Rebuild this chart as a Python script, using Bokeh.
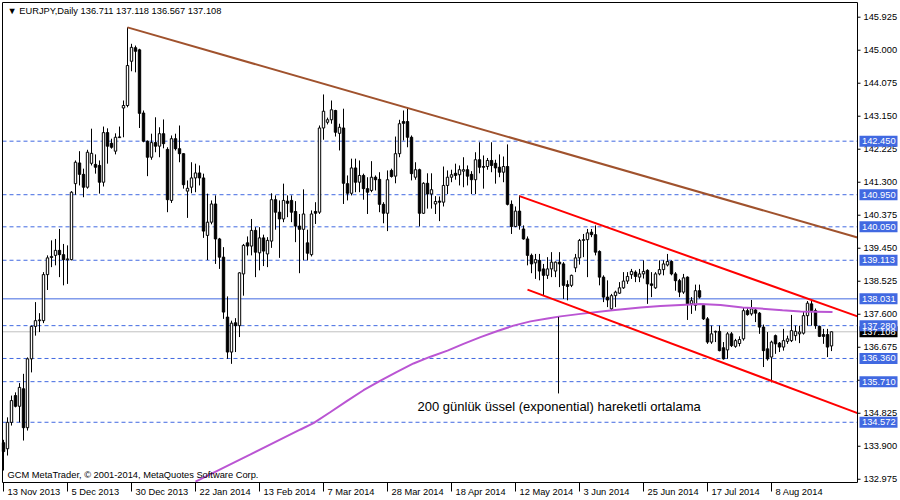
from bokeh.plotting import figure
from bokeh.models import Range1d
from bokeh.embed import file_html
from bokeh.resources import INLINE
from bokeh.core.properties import value

# ---------------- data (EURJPY daily, bar index 0 = 13 Nov 2013) ----------------
OPEN = [134.00, 133.83, 134.57, 135.32, 135.02, 135.51, 134.42, 136.35, 137.26, 137.42,
        137.42, 138.71, 139.19, 139.25, 139.39, 139.27, 139.13, 139.13, 141.26, 141.84,
        141.52, 141.16, 141.83, 141.80, 141.77, 141.30, 142.69, 142.39, 142.17, 142.55,
        143.38, 143.45, 144.69, 145.07, 145.01, 143.24, 142.45, 142.00, 142.41, 142.31,
        142.66, 142.22, 140.79, 142.52, 142.24, 142.10, 141.05, 141.16, 141.42, 141.56,
        141.42, 139.81, 140.18, 140.69, 139.71, 139.20, 137.52, 136.54, 137.36, 137.28,
        138.73, 139.60, 139.51, 139.95, 139.32, 139.74, 139.29, 139.65, 140.81, 140.46,
        140.27, 140.77, 140.79, 140.48, 140.07, 139.98, 139.60, 139.27, 140.48, 140.46,
        142.82, 142.98, 143.05, 143.31, 142.67, 142.82, 141.26, 140.99, 141.70, 141.30,
        141.49, 141.12, 141.07, 141.44, 141.38, 140.68, 140.43, 141.63, 141.47, 142.10,
        143.00, 143.00, 142.56, 141.44, 141.65, 140.43, 141.27, 140.97, 140.69, 140.77,
        140.74, 141.21, 141.44, 141.55, 141.51, 141.61, 141.65, 141.52, 141.37, 141.93,
        141.74, 141.74, 141.91, 141.83, 141.72, 141.58, 141.74, 140.68, 140.06, 140.49,
        139.99, 139.71, 139.25, 139.04, 139.11, 138.87, 138.69, 138.87, 138.81, 139.06,
        139.01, 138.43, 138.41, 138.90, 139.18, 139.67, 139.69, 139.90, 139.83, 139.36,
        138.64, 138.08, 137.75, 138.12, 138.19, 138.34, 138.53, 138.71, 138.78, 138.64,
        138.73, 138.83, 138.45, 138.34, 138.73, 138.85, 138.98, 139.08, 138.73, 138.54,
        138.22, 138.64, 137.89, 137.85, 138.26, 137.85, 137.47, 136.82, 137.10, 137.12,
        136.66, 136.60, 137.05, 136.70, 136.78, 136.91, 137.70, 137.61, 137.72, 137.63,
        137.24, 136.63, 136.40, 137.00, 136.79, 136.68, 136.84, 136.86, 137.00, 137.05,
        137.07, 137.56, 137.89, 137.70, 137.26, 137.03, 137.03, 136.711]
HIGH = [134.08, 134.71, 135.32, 135.41, 135.67, 135.93, 136.39, 137.28, 137.94, 137.63,
        138.78, 139.25, 139.67, 139.71, 139.99, 139.57, 139.53, 141.05, 141.91, 142.17,
        141.68, 142.21, 142.80, 142.08, 141.91, 142.86, 142.81, 142.52, 142.67, 142.86,
        143.59, 145.64, 145.18, 145.13, 145.04, 143.31, 142.47, 142.66, 143.12, 142.84,
        143.06, 142.28, 142.61, 142.66, 142.89, 142.11, 141.35, 141.86, 141.82, 141.77,
        141.54, 140.98, 140.79, 140.93, 139.74, 139.48, 138.10, 137.42, 137.49, 138.78,
        139.57, 139.78, 140.27, 140.04, 140.04, 139.83, 139.76, 140.99, 140.93, 140.79,
        141.26, 140.93, 140.93, 140.77, 140.41, 141.10, 139.97, 140.51, 140.74, 142.89,
        143.76, 143.11, 143.59, 143.33, 142.94, 143.36, 141.49, 141.96, 141.96, 141.91,
        141.54, 141.44, 141.89, 141.49, 141.58, 140.74, 141.63, 141.68, 142.58, 143.05,
        143.31, 143.40, 142.61, 141.86, 141.68, 141.30, 141.55, 141.55, 140.91, 140.90,
        141.74, 141.63, 141.65, 141.82, 141.77, 142.00, 141.77, 141.61, 142.14, 142.42,
        142.05, 141.98, 142.42, 141.93, 142.08, 142.02, 142.36, 140.79, 140.62, 140.93,
        140.09, 139.78, 139.30, 139.29, 139.29, 139.01, 139.20, 139.34, 139.08, 139.34,
        139.06, 138.55, 138.71, 139.29, 139.71, 139.85, 139.99, 139.99, 140.09, 139.39,
        138.69, 138.55, 138.17, 138.26, 138.50, 138.78, 138.78, 138.87, 138.83, 138.87,
        139.11, 138.86, 138.78, 138.78, 139.11, 139.11, 139.29, 139.11, 138.78, 138.59,
        138.73, 138.66, 138.08, 138.43, 138.43, 137.89, 137.52, 137.28, 137.14, 137.28,
        136.82, 137.10, 137.10, 136.91, 136.98, 137.80, 137.80, 138.00, 137.75, 137.66,
        137.31, 137.10, 136.86, 137.03, 136.82, 137.19, 137.00, 137.58, 137.28, 137.28,
        137.68, 137.97, 137.97, 137.76, 137.28, 137.19, 137.19, 137.118]
LOW = [133.22, 133.64, 134.48, 134.99, 134.57, 134.06, 134.34, 135.97, 137.00, 137.10,
       137.35, 138.28, 138.92, 138.97, 138.64, 138.41, 138.45, 139.11, 140.95, 141.21,
       140.88, 141.12, 141.77, 141.54, 140.98, 141.18, 141.82, 142.24, 142.08, 142.54,
       142.56, 143.40, 144.41, 144.38, 142.82, 142.42, 141.47, 141.93, 142.14, 142.00,
       142.25, 140.46, 140.72, 142.19, 141.86, 141.12, 140.30, 140.99, 141.02, 141.21,
       139.74, 139.12, 140.12, 139.01, 138.87, 137.47, 136.35, 136.21, 136.54, 136.96,
       138.12, 139.25, 139.25, 138.64, 138.83, 138.95, 138.92, 139.46, 139.97, 139.18,
       140.18, 140.32, 140.18, 139.62, 138.75, 139.11, 139.11, 139.22, 140.13, 140.41,
       142.49, 142.92, 142.94, 142.58, 142.19, 140.69, 140.79, 140.93, 141.02, 141.02,
       140.81, 140.41, 141.02, 141.07, 140.46, 140.15, 139.93, 141.43, 141.27, 142.00,
       142.47, 142.28, 141.35, 141.37, 140.06, 140.41, 140.56, 140.56, 140.41, 140.21,
       140.62, 140.97, 141.30, 141.37, 141.21, 141.16, 141.21, 140.97, 140.97, 141.55,
       141.12, 141.65, 141.58, 141.26, 141.44, 141.30, 140.65, 139.85, 140.04, 139.97,
       139.69, 138.97, 138.75, 138.59, 138.55, 138.12, 138.59, 138.64, 138.64, 138.36,
       138.03, 137.99, 138.36, 138.78, 138.99, 139.20, 138.64, 139.76, 139.25, 138.41,
       137.94, 137.80, 137.70, 137.80, 138.17, 138.31, 138.45, 138.59, 138.50, 138.50,
       138.60, 137.89, 138.08, 138.31, 138.69, 138.69, 138.94, 138.69, 138.26, 138.08,
       138.17, 137.44, 137.61, 137.70, 138.04, 137.44, 136.77, 136.77, 136.82, 136.56,
       136.33, 136.35, 136.68, 136.66, 136.70, 136.86, 137.56, 137.56, 137.38, 137.05,
       136.12, 136.30, 135.69, 136.49, 136.54, 136.58, 136.77, 136.82, 136.86, 136.79,
       137.03, 137.28, 137.28, 137.19, 136.96, 136.77, 136.40, 136.567]
CLOSE = [133.75, 134.57, 135.18, 135.02, 135.55, 134.42, 136.35, 137.26, 137.42, 137.44,
         138.71, 139.18, 139.22, 139.39, 139.27, 139.13, 139.15, 141.02, 141.86, 141.52,
         141.16, 142.14, 142.11, 141.72, 141.30, 142.69, 142.31, 142.28, 142.56, 142.57,
         143.45, 144.57, 145.08, 144.97, 143.23, 142.45, 142.00, 142.41, 142.31, 142.66,
         142.38, 140.81, 142.52, 142.24, 142.10, 141.23, 141.13, 141.42, 141.56, 141.42,
         139.93, 140.18, 140.69, 139.71, 139.20, 137.66, 136.54, 137.35, 137.28, 138.76,
         139.53, 139.51, 139.95, 139.34, 139.74, 139.37, 139.67, 140.81, 140.46, 140.27,
         140.79, 140.71, 140.46, 140.07, 139.98, 140.41, 139.31, 140.41, 140.43, 142.82,
         143.29, 143.05, 143.33, 142.70, 142.84, 141.27, 140.99, 141.70, 141.30, 141.49,
         141.12, 141.02, 141.44, 141.37, 140.68, 140.43, 141.37, 141.46, 142.10, 142.94,
         142.95, 142.56, 141.54, 141.65, 140.43, 141.27, 140.97, 141.09, 140.76, 140.74,
         141.21, 141.44, 141.51, 141.49, 141.65, 141.65, 141.47, 141.37, 141.93, 141.72,
         141.72, 141.91, 141.77, 141.70, 141.58, 141.74, 140.68, 140.06, 140.49, 140.09,
         139.71, 139.25, 139.01, 139.13, 138.81, 138.69, 138.87, 139.06, 139.06, 139.01,
         138.41, 138.38, 138.69, 139.18, 139.67, 139.69, 139.88, 139.83, 139.34, 138.64,
         138.08, 138.00, 138.12, 138.22, 138.34, 138.53, 138.66, 138.80, 138.66, 138.73,
         138.80, 138.45, 138.41, 138.73, 138.85, 139.01, 139.08, 138.73, 138.54, 138.22,
         138.62, 137.89, 137.98, 138.26, 138.08, 137.47, 136.82, 137.05, 137.12, 136.58,
         136.35, 137.05, 136.72, 136.86, 136.89, 137.70, 137.59, 137.75, 137.63, 137.24,
         136.58, 136.35, 136.82, 136.77, 136.68, 136.86, 136.91, 137.14, 137.12, 137.10,
         137.56, 137.91, 137.70, 137.28, 136.98, 136.98, 136.68, 137.108]

DATE_BARS = [0, 16, 32, 48, 64, 80, 96, 112, 128, 144, 160, 176, 192]
DATE_LABELS = ["13 Nov 2013", "5 Dec 2013", "30 Dec 2013", "22 Jan 2014", "13 Feb 2014",
               "7 Mar 2014", "28 Mar 2014", "18 Apr 2014", "12 May 2014", "3 Jun 2014",
               "25 Jun 2014", "17 Jul 2014", "8 Aug 2014"]
PRICE_TICKS = [132.975, 133.900, 134.825, 135.750, 136.675, 137.600, 138.525, 139.450,
               140.375, 141.300, 142.225, 143.150, 144.075, 145.000, 145.925]

DASHED_LEVELS = [142.450, 140.950, 140.050, 139.113, 137.280, 136.360, 135.710, 134.572]
SOLID_LEVEL = 138.031
BID_LEVEL = 137.108

# 200-day EMA
EMA_BAR = [48, 61.75, 74.25, 77.5, 81.75, 86, 90, 94.25, 98.25, 102.5, 106.75, 111, 115,
           119.25, 123.5, 127.5, 131.75, 136, 139.25, 144.25, 152.25, 159.25, 164.25,
           169.25, 174.25, 179.25, 184.75, 189.25, 194.75, 199.25, 207.25]
EMA_VAL = [132.91, 133.67, 134.37, 134.55, 134.86, 135.18, 135.47, 135.74, 135.98, 136.22,
           136.41, 136.58, 136.77, 136.96, 137.13, 137.28, 137.40, 137.48, 137.54, 137.61,
           137.71, 137.79, 137.83, 137.86, 137.89, 137.86, 137.79, 137.76, 137.71, 137.68,
           137.66]

# trend lines: (bar, price) anchors up to the right edge of the chart
BROWN_BAR, BROWN_VAL = [31, 213.5], [145.64, 139.75]
RED_UP_BAR, RED_UP_VAL = [129, 213.5], [140.91, 137.54]
RED_LO_BAR, RED_LO_VAL = [131, 213.5], [138.29, 134.83]

NOTE_BAR = 138.75
NOTE_TOP, NOTE_BOTTOM = 137.52, 135.38
NOTE_TEXT = "200 günlük üssel (exponential) hareketli ortalama"
NOTE_TEXT_BAR, NOTE_TEXT_PRICE = 103.5, 135.01

HEADER = "\u25bc EURJPY,Daily  136.711 137.118 136.567 137.108"
COPYRIGHT = "GCM MetaTrader, \u00a9 2001-2014, MetaQuotes Software Corp."

# ---------------- geometry of the chart window ----------------
X_START, X_END = -0.25, 213.5          # chart frame, in bars
Y_MIN, Y_MAX = 132.884, 146.337        # chart frame, in price
BAR_PX = 4.0                           # pixels per bar
PPX = (Y_MAX - Y_MIN) / 480.0          # price per pixel
XL, XR = X_START - 2 / BAR_PX, X_END + 43 / BAR_PX
YB, YT = Y_MIN - 18 * PPX, Y_MAX + 2 * PPX
BX = 1 / BAR_PX                        # bars per pixel

FONT = "Liberation Sans"
SMALL = "9.3px"
BLUE = "#4169E1"

p = figure(width=900, height=500, output_backend="svg", toolbar_location=None,
           x_range=Range1d(XL, XR), y_range=Range1d(YB, YT),
           x_axis_location=None, y_axis_location=None, title=None,
           min_border=0, background_fill_color="white", border_fill_color="white",
           outline_line_color=None,
           styles={"position": "absolute", "left": "0px", "top": "0px"})
p.grid.visible = False

# horizontal levels (behind candles)
n_d = len(DASHED_LEVELS)
p.segment(x0=[X_START] * n_d, x1=[X_END] * n_d, y0=DASHED_LEVELS, y1=DASHED_LEVELS,
          line_color=BLUE, line_width=1, line_dash="4 3")
p.segment(x0=[X_START], x1=[X_END], y0=[SOLID_LEVEL], y1=[SOLID_LEVEL],
          line_color=BLUE, line_width=1)
p.segment(x0=[X_START], x1=[X_END], y0=[BID_LEVEL], y1=[BID_LEVEL],
          line_color="#C0C0C0", line_width=1)

# candles
idx = list(range(len(OPEN)))
p.segment(x0=idx, y0=LOW, x1=idx, y1=HIGH, line_color="black", line_width=1)
up = [i for i in idx if CLOSE[i] >= OPEN[i]]
dn = [i for i in idx if CLOSE[i] < OPEN[i]]
p.vbar(x=up, width=0.6, bottom=[OPEN[i] for i in up], top=[CLOSE[i] for i in up],
       fill_color="white", line_color="black", line_width=1)
p.vbar(x=dn, width=0.6, bottom=[CLOSE[i] for i in dn], top=[OPEN[i] for i in dn],
       fill_color="black", line_color="black", line_width=1)

# EMA and trend lines
p.line(EMA_BAR, EMA_VAL, line_color="#BA55D3", line_width=2)
p.line(BROWN_BAR, BROWN_VAL, line_color="#A0522D", line_width=2)
p.line(RED_UP_BAR, RED_UP_VAL, line_color="#FF0000", line_width=2)
p.line(RED_LO_BAR, RED_LO_VAL, line_color="#FF0000", line_width=2)

# annotation
p.segment(x0=[NOTE_BAR], y0=[NOTE_TOP], x1=[NOTE_BAR], y1=[NOTE_BOTTOM],
          line_color="black", line_width=1)
p.text(x=[NOTE_TEXT_BAR], y=[NOTE_TEXT_PRICE], text=[NOTE_TEXT],
       text_font=value(FONT), text_font_size="13px", text_color="black",
       text_align="left", text_baseline="middle")

# chart frame
p.line([X_START, X_START, X_END, X_END, X_START], [Y_MIN, Y_MAX, Y_MAX, Y_MIN, Y_MIN],
       line_color="black", line_width=1)

# header & copyright
p.text(x=[X_START + 5 * BX], y=[Y_MAX - 8 * PPX], text=[HEADER],
       text_font=value(FONT), text_font_size=SMALL, text_color="black",
       text_align="left", text_baseline="middle")
p.text(x=[X_START + 5 * BX], y=[Y_MIN + 8 * PPX], text=[COPYRIGHT],
       text_font=value(FONT), text_font_size=SMALL, text_color="black",
       text_align="left", text_baseline="middle")

# time scale (below)
n_t = len(DATE_BARS)
p.segment(x0=DATE_BARS, x1=DATE_BARS, y0=[Y_MIN] * n_t, y1=[Y_MIN - 9 * PPX] * n_t,
          line_color="black", line_width=1)
p.text(x=[b + 4 * BX for b in DATE_BARS], y=[Y_MIN - 9 * PPX] * n_t, text=DATE_LABELS,
       text_font=value(FONT), text_font_size=SMALL, text_color="black",
       text_align="left", text_baseline="middle")

# price scale (right)
n_p = len(PRICE_TICKS)
p.segment(x0=[X_END] * n_p, x1=[X_END + 3 * BX] * n_p, y0=PRICE_TICKS, y1=PRICE_TICKS,
          line_color="black", line_width=1)
p.text(x=[X_END + 6 * BX] * n_p, y=PRICE_TICKS, text=[f"{t:.3f}" for t in PRICE_TICKS],
       text_font=value(FONT), text_font_size=SMALL, text_color="black",
       text_align="left", text_baseline="middle")

# price boxes on the right scale (bid first, others on top)
box_levels = [BID_LEVEL] + DASHED_LEVELS + [SOLID_LEVEL]
box_colors = ["black"] + [BLUE] * (len(DASHED_LEVELS) + 1)
p.rect(x=[X_END + 2 * BX + 19 * BX] * len(box_levels), y=box_levels,
       width=38 * BX, height=11 * PPX, fill_color=box_colors, line_color=None)
p.text(x=[X_END + 4.5 * BX] * len(box_levels), y=box_levels,
       text=[f"{v:.3f}" for v in box_levels],
       text_font=value(FONT), text_font_size=SMALL, text_color="white",
       text_align="left", text_baseline="middle")

open("out.html", "w").write(file_html(p, INLINE))
